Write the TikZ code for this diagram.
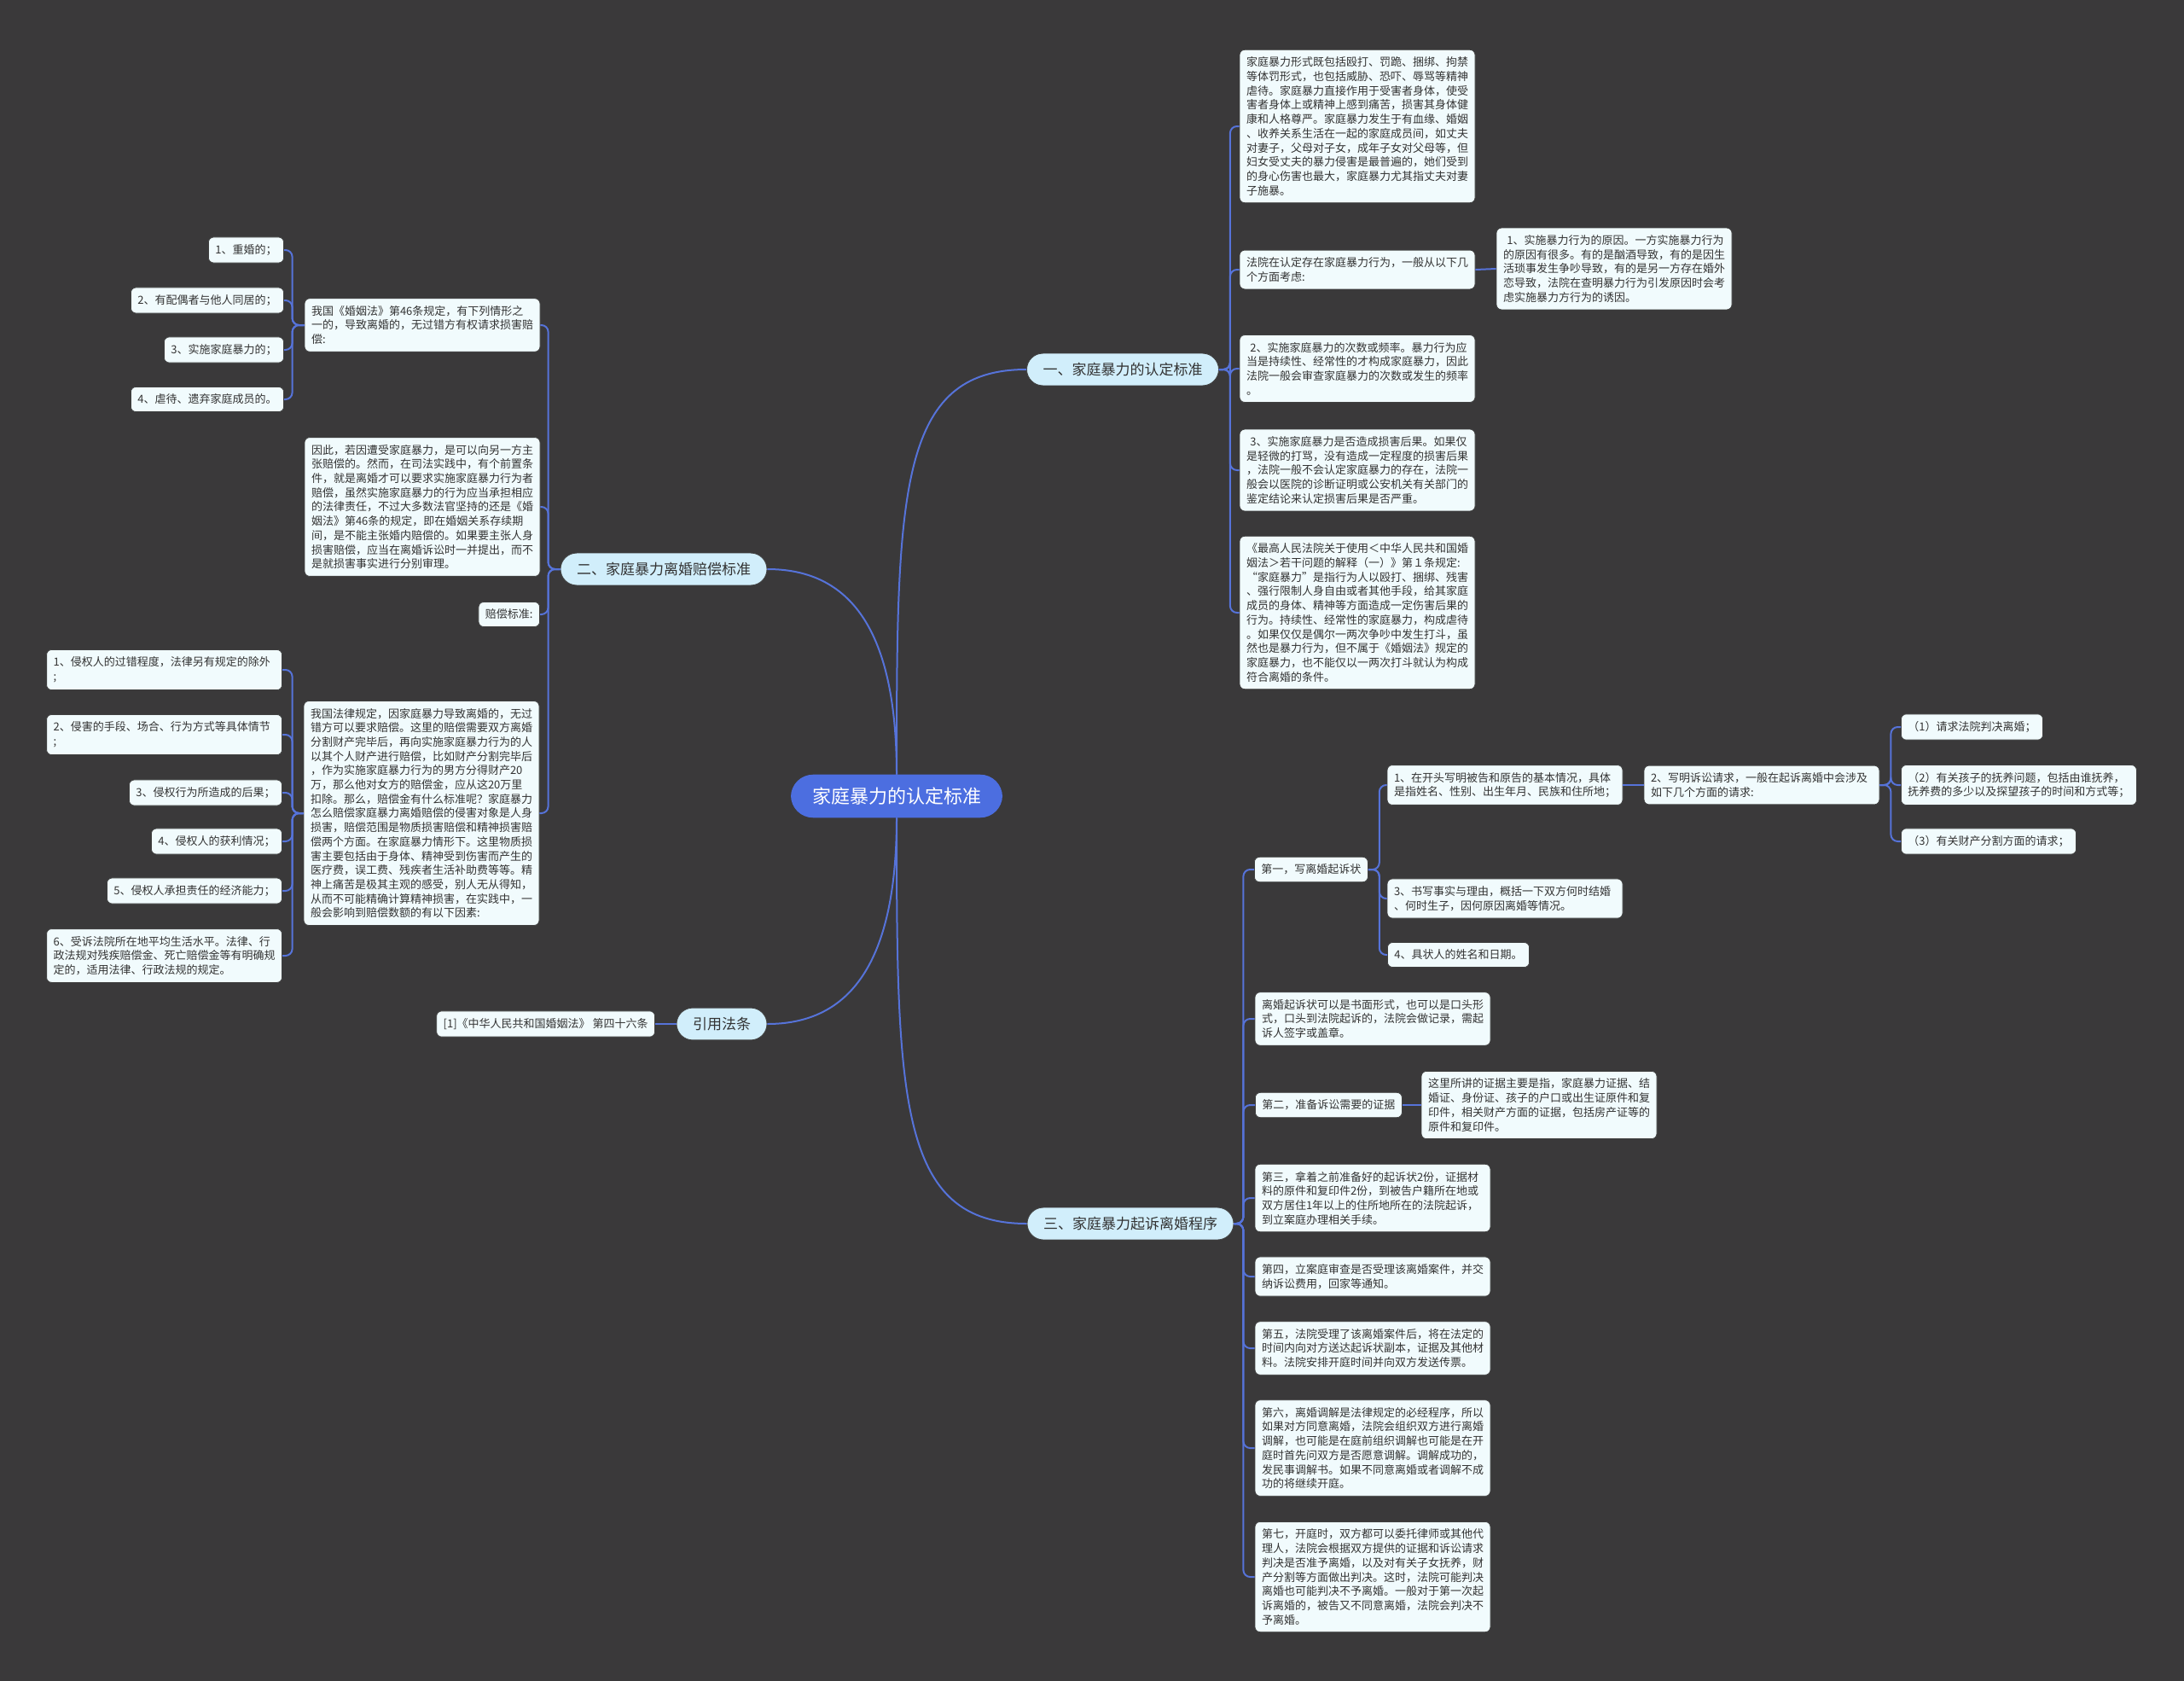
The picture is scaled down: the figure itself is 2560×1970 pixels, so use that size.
\documentclass[tikz,border=0pt]{standalone}
\usepackage{fontspec}
\setmainfont{Noto Sans CJK SC}
\usetikzlibrary{positioning}

\definecolor{bgdark}{HTML}{3A393A}
\definecolor{leaffill}{HTML}{F1FBFD}
\definecolor{branchfill}{HTML}{D1EEFB}
\definecolor{rootblue}{HTML}{4C6EE0}
\definecolor{linkblue}{HTML}{5673D9}
\definecolor{textdark}{HTML}{333333}

\begin{document}
\begin{tikzpicture}[
    x=1pt, y=-1pt,
    leaf/.style={draw=black!75, line width=0.8pt, fill=leaffill, rounded corners=6pt, text=textdark,
      font=\fontsize{13}{16.7}\selectfont, align=left, inner xsep=8pt, inner ysep=8.5pt},
    para/.style={leaf, text width=260pt},
    branch/.style={draw=black!75, line width=0.8pt, fill=branchfill, rounded corners=19pt, text=textdark,
      font=\fontsize{17}{20}\selectfont, inner xsep=19pt, inner ysep=11pt},
    root/.style={fill=rootblue, rounded corners=26pt, text=white,
      font=\fontsize{22}{26}\selectfont, inner xsep=25pt, inner ysep=15pt},
    link/.style={draw=linkblue, line width=2pt, rounded corners=8pt},
    curve/.style={draw=linkblue, line width=2pt}
]
\useasboundingbox (0,0) rectangle (2560,1970);
\fill[bgdark] (0,0) rectangle (2560,1970);

% Centre and main branches
\node[root] (root) at (1051,933) {家庭暴力的认定标准};
\node[branch] (one) at (1316,433) {一、家庭暴力的认定标准};
\node[branch] (two) at (778,667) {二、家庭暴力离婚赔偿标准};
\node[branch] (three) at (1325,1434) {三、家庭暴力起诉离婚程序};
\node[branch] (cite) at (846,1200) {引用法条};
\node[leaf, anchor=east] (law) at (768,1200) {[1]《中华人民共和国婚姻法》 第四十六条};

\draw[curve] (root.north) .. controls +(0,-330) and +(-150,0) .. (one.west);
\draw[curve] (root.north) .. controls +(0,-180) and +(90,0) .. (two.east);
\draw[curve] (root.south) .. controls +(0,330) and +(-150,0) .. (three.west);
\draw[curve] (root.south) .. controls +(0,180) and +(90,0) .. (cite.east);
\draw[link] (cite.west) -- (law.east);

% Branch one
\node[para] (a1) at (1591,148) {家庭暴力形式既包括殴打、罚跪、捆绑、拘禁\\等体罚形式，也包括威胁、恐吓、辱骂等精神\\虐待。家庭暴力直接作用于受害者身体，使受\\害者身体上或精神上感到痛苦，损害其身体健\\康和人格尊严。家庭暴力发生于有血缘、婚姻\\、收养关系生活在一起的家庭成员间，如丈夫\\对妻子，父母对子女，成年子女对父母等，但\\妇女受丈夫的暴力侵害是最普遍的，她们受到\\的身心伤害也最大，家庭暴力尤其指丈夫对妻\\子施暴。};
\node[para] (a2) at (1591,316) {法院在认定存在家庭暴力行为，一般从以下几\\个方面考虑:};
\node[para] (a2x) at (1892,315) {\ 1、实施暴力行为的原因。一方实施暴力行为\\的原因有很多。有的是酗酒导致，有的是因生\\活琐事发生争吵导致，有的是另一方存在婚外\\恋导致，法院在查明暴力行为引发原因时会考\\虑实施暴力方行为的诱因。};
\node[para] (a3) at (1591,432) {\ 2、实施家庭暴力的次数或频率。暴力行为应\\当是持续性、经常性的才构成家庭暴力，因此\\法院一般会审查家庭暴力的次数或发生的频率\\。};
\node[para] (a4) at (1591,551) {\ 3、实施家庭暴力是否造成损害后果。如果仅\\是轻微的打骂，没有造成一定程度的损害后果\\，法院一般不会认定家庭暴力的存在，法院一\\般会以医院的诊断证明或公安机关有关部门的\\鉴定结论来认定损害后果是否严重。};
\node[para] (a5) at (1591,718) {《最高人民法院关于使用＜中华人民共和国婚\\姻法＞若干问题的解释（一）》第１条规定:\\“家庭暴力”是指行为人以殴打、捆绑、残害\\、强行限制人身自由或者其他手段，给其家庭\\成员的身体、精神等方面造成一定伤害后果的\\行为。持续性、经常性的家庭暴力，构成虐待\\。如果仅仅是偶尔一两次争吵中发生打斗，虽\\然也是暴力行为，但不属于《婚姻法》规定的\\家庭暴力，也不能仅以一两次打斗就认为构成\\符合离婚的条件。};

\foreach \c in {a1,a2,a3,a4,a5}
  \draw[link] (one.east) -- ++(13,0) |- (\c.west);
\draw[link] (a2.east) -- (a2x.west);

% Branch two
\node[para] (b1) at (495,381) {我国《婚姻法》第46条规定，有下列情形之\\一的，导致离婚的，无过错方有权请求损害赔\\偿:};
\node[leaf, anchor=east] (b11) at (333,293) {1、重婚的；};
\node[leaf, anchor=east] (b12) at (333,352) {2、有配偶者与他人同居的；};
\node[leaf, anchor=east] (b13) at (333,410) {3、实施家庭暴力的；};
\node[leaf, anchor=east] (b14) at (333,468) {4、虐待、遗弃家庭成员的。};
\node[para] (b2) at (495,594) {因此，若因遭受家庭暴力，是可以向另一方主\\张赔偿的。然而，在司法实践中，有个前置条\\件，就是离婚才可以要求实施家庭暴力行为者\\赔偿，虽然实施家庭暴力的行为应当承担相应\\的法律责任，不过大多数法官坚持的还是《婚\\姻法》第46条的规定，即在婚姻关系存续期\\间，是不能主张婚内赔偿的。如果要主张人身\\损害赔偿，应当在离婚诉讼时一并提出，而不\\是就损害事实进行分别审理。};
\node[leaf, anchor=east] (b3) at (633,720) {赔偿标准:};
\node[para] (b4) at (494,953) {我国法律规定，因家庭暴力导致离婚的，无过\\错方可以要求赔偿。这里的赔偿需要双方离婚\\分割财产完毕后，再向实施家庭暴力行为的人\\以其个人财产进行赔偿，比如财产分割完毕后\\，作为实施家庭暴力行为的男方分得财产20\\万，那么他对女方的赔偿金，应从这20万里\\扣除。那么，赔偿金有什么标准呢？家庭暴力\\怎么赔偿家庭暴力离婚赔偿的侵害对象是人身\\损害，赔偿范围是物质损害赔偿和精神损害赔\\偿两个方面。在家庭暴力情形下。这里物质损\\害主要包括由于身体、精神受到伤害而产生的\\医疗费，误工费、残疾者生活补助费等等。精\\神上痛苦是极其主观的感受，别人无从得知，\\从而不可能精确计算精神损害，在实践中，一\\般会影响到赔偿数额的有以下因素:};
\node[para, anchor=east] (b41) at (331,785) {1、侵权人的过错程度，法律另有规定的除外\\;};
\node[para, anchor=east] (b42) at (331,861) {2、侵害的手段、场合、行为方式等具体情节\\;};
\node[leaf, anchor=east] (b43) at (331,929) {3、侵权行为所造成的后果；};
\node[leaf, anchor=east] (b44) at (331,986) {4、侵权人的获利情况；};
\node[leaf, anchor=east] (b45) at (331,1044) {5、侵权人承担责任的经济能力；};
\node[para, anchor=east] (b46) at (331,1120) {6、受诉法院所在地平均生活水平。法律、行\\政法规对残疾赔偿金、死亡赔偿金等有明确规\\定的，适用法律、行政法规的规定。};

\foreach \c in {b1,b2,b3,b4}
  \draw[link] (two.west) -- ++(-14,0) |- (\c.east);
\foreach \c in {b11,b12,b13,b14}
  \draw[link] (b1.west) -- ++(-14,0) |- (\c.east);
\foreach \c in {b41,b42,b43,b44,b45,b46}
  \draw[link] (b4.west) -- ++(-13,0) |- (\c.east);

% Branch three
\node[leaf, anchor=west] (c1) at (1470,1019) {第一，写离婚起诉状};
\node[para] (c11) at (1764,920) {1、在开头写明被告和原告的基本情况，具体\\是指姓名、性别、出生年月、民族和住所地；};
\node[para] (c12) at (2065,920) {2、写明诉讼请求，一般在起诉离婚中会涉及\\如下几个方面的请求:};
\node[leaf, anchor=west] (c121) at (2228,852) {（1）请求法院判决离婚；};
\node[para, anchor=west] (c122) at (2228,920) {（2）有关孩子的抚养问题，包括由谁抚养，\\抚养费的多少以及探望孩子的时间和方式等；};
\node[leaf, anchor=west] (c123) at (2228,986) {（3）有关财产分割方面的请求；};
\node[para] (c13) at (1764,1053) {3、书写事实与理由，概括一下双方何时结婚\\、何时生子，因何原因离婚等情况。};
\node[leaf, anchor=west] (c14) at (1626,1119) {4、具状人的姓名和日期。};
\node[para] (c2) at (1609,1194) {离婚起诉状可以是书面形式，也可以是口头形\\式，口头到法院起诉的，法院会做记录，需起\\诉人签字或盖章。};
\node[leaf, anchor=west] (c3) at (1471,1295) {第二，准备诉讼需要的证据};
\node[para] (c31) at (1804,1295) {这里所讲的证据主要是指，家庭暴力证据、结\\婚证、身份证、孩子的户口或出生证原件和复\\印件，相关财产方面的证据，包括房产证等的\\原件和复印件。};
\node[para] (c4) at (1609,1404) {第三，拿着之前准备好的起诉状2份，证据材\\料的原件和复印件2份，到被告户籍所在地或\\双方居住1年以上的住所地所在的法院起诉，\\到立案庭办理相关手续。};
\node[para] (c5) at (1609,1496) {第四，立案庭审查是否受理该离婚案件，并交\\纳诉讼费用，回家等通知。};
\node[para] (c6) at (1609,1580) {第五，法院受理了该离婚案件后，将在法定的\\时间内向对方送达起诉状副本，证据及其他材\\料。法院安排开庭时间并向双方发送传票。};
\node[para] (c7) at (1609,1697) {第六，离婚调解是法律规定的必经程序，所以\\如果对方同意离婚，法院会组织双方进行离婚\\调解，也可能是在庭前组织调解也可能是在开\\庭时首先问双方是否愿意调解。调解成功的，\\发民事调解书。如果不同意离婚或者调解不成\\功的将继续开庭。};
\node[para] (c8) at (1609,1848) {第七，开庭时，双方都可以委托律师或其他代\\理人，法院会根据双方提供的证据和诉讼请求\\判决是否准予离婚，以及对有关子女抚养，财\\产分割等方面做出判决。这时，法院可能判决\\离婚也可能判决不予离婚。一般对于第一次起\\诉离婚的，被告又不同意离婚，法院会判决不\\予离婚。};

\foreach \c in {c1,c2,c3,c4,c5,c6,c7,c8}
  \draw[link] (three.east) -- ++(11,0) |- (\c.west);
\foreach \c in {c11,c13,c14}
  \draw[link] (c1.east) -- ++(13,0) |- (\c.west);
\draw[link] (c11.east) -- (c12.west);
\foreach \c in {c121,c122,c123}
  \draw[link] (c12.east) -- ++(13,0) |- (\c.west);
\draw[link] (c3.east) -- (c31.west);

\end{tikzpicture}
\end{document}
